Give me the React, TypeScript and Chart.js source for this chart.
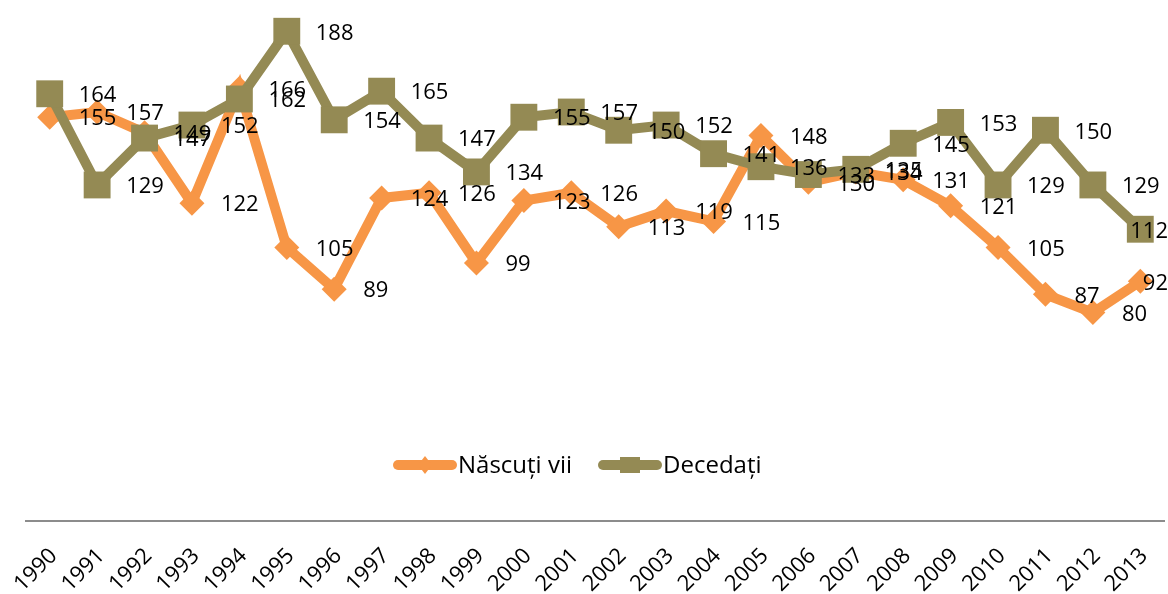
import React, { useEffect, useRef } from "react";
import { Chart, registerables } from "chart.js";

Chart.register(...registerables);

const years = [
  "1990", "1991", "1992", "1993", "1994", "1995", "1996", "1997", "1998", "1999", "2000", "2001",
  "2002", "2003", "2004", "2005", "2006", "2007", "2008", "2009", "2010", "2011", "2012", "2013",
];
const nascutiVii = [155, 157, 149, 122, 166, 105, 89, 124, 126, 99, 123, 126, 113, 119, 115, 148, 130, 134, 131, 121, 105, 87, 80, 92];
const decedati = [164, 129, 147, 152, 162, 188, 154, 165, 147, 134, 155, 157, 150, 152, 141, 136, 133, 135, 145, 153, 129, 150, 129, 112];
const seriesNames = ["Născuți vii", "Decedați"];

const ORANGE = "#F79646";
const OLIVE = "#948A54";
const FONT = "'Open Sans', 'Noto Sans', sans-serif";

const dataLabelPlugin = {
  id: "dataLabels",
  afterDatasetsDraw(chart: any) {
    const ctx = chart.ctx;
    ctx.save();
    ctx.font = `22px ${FONT}`;
    ctx.fillStyle = "#000";
    ctx.textBaseline = "middle";
    ctx.textAlign = "left";
    chart.data.datasets.forEach((ds: any, di: number) => {
      const meta = chart.getDatasetMeta(di);
      meta.data.forEach((pt: any, i: number) => {
        const text = String(ds.data[i]);
        const w = ctx.measureText(text).width;
        let x = pt.x + 29;
        if (x + w > chart.width) x = chart.width - w;
        ctx.fillText(text, x, pt.y + 2);
      });
    });
    ctx.restore();
  },
};

const legendPlugin = {
  id: "customLegend",
  afterDraw(chart: any) {
    const ctx = chart.ctx;
    const y = 465;
    let x = 398;
    ctx.save();
    ctx.font = `24px ${FONT}`;
    ctx.textBaseline = "middle";
    ctx.textAlign = "left";
    chart.data.datasets.forEach((ds: any) => {
      ctx.strokeStyle = ds.borderColor;
      ctx.lineWidth = 10;
      ctx.lineCap = "round";
      ctx.beginPath();
      ctx.moveTo(x, y);
      ctx.lineTo(x + 54, y);
      ctx.stroke();
      ctx.fillStyle = ds.borderColor;
      const cx = x + 27;
      ctx.beginPath();
      if (ds.pointStyle === "rectRot") {
        ctx.moveTo(cx, y - 9);
        ctx.lineTo(cx + 7, y);
        ctx.lineTo(cx, y + 9);
        ctx.lineTo(cx - 7, y);
        ctx.closePath();
      } else {
        ctx.rect(cx - 10, y - 8, 20, 16);
      }
      ctx.fill();
      ctx.fillStyle = "#000";
      ctx.fillText(ds.label, x + 60, y + 1);
      x += 60 + ctx.measureText(ds.label).width + 31;
    });
    ctx.restore();
  },
};

export default function App() {
  const canvasRef = useRef<HTMLCanvasElement | null>(null);

  useEffect(() => {
    if (!canvasRef.current) return;
    const chart = new Chart(canvasRef.current, {
      type: "line",
      data: {
        labels: years,
        datasets: [
          {
            label: seriesNames[0],
            data: nascutiVii,
            borderColor: ORANGE,
            backgroundColor: ORANGE,
            borderWidth: 10,
            pointStyle: "rectRot",
            pointRadius: 12.5,
            pointBackgroundColor: ORANGE,
            pointBorderColor: ORANGE,
            pointBorderWidth: 0,
            tension: 0,
            order: 1,
            clip: false,
          } as any,
          {
            label: seriesNames[1],
            data: decedati,
            borderColor: OLIVE,
            backgroundColor: OLIVE,
            borderWidth: 10,
            pointStyle: "rect",
            pointRadius: 19,
            pointBackgroundColor: OLIVE,
            pointBorderColor: OLIVE,
            pointBorderWidth: 0,
            tension: 0,
            order: 0,
            clip: false,
          } as any,
        ],
      },
      options: {
        animation: false,
        responsive: false,
        layout: { autoPadding: false, padding: { left: 26, right: 4, top: 0, bottom: 0 } },
        plugins: {
          legend: { display: false },
          tooltip: { enabled: false },
        },
        scales: {
          x: {
            offset: true,
            grid: { display: false },
            border: { display: true, color: "#8C8C8C", width: 2 },
            ticks: {
              autoSkip: false,
              minRotation: 45,
              maxRotation: 45,
              color: "#000",
              padding: 14,
              labelOffset: 4,
              font: { family: FONT, size: 22 },
            },
            afterFit: (s: any) => {
              s.height = 73;
              s.paddingLeft = 0;
              s.paddingRight = 0;
            },
          },
          y: { display: false, min: 0, max: 200 },
        },
      },
      plugins: [dataLabelPlugin, legendPlugin],
    });
    return () => chart.destroy();
  }, []);

  return (
    <div style={{ position: "fixed", left: 0, top: 0, width: 1168, height: 594, background: "#fff" }}>
      <canvas ref={canvasRef} width={1168} height={594} style={{ display: "block" }} />
    </div>
  );
}
